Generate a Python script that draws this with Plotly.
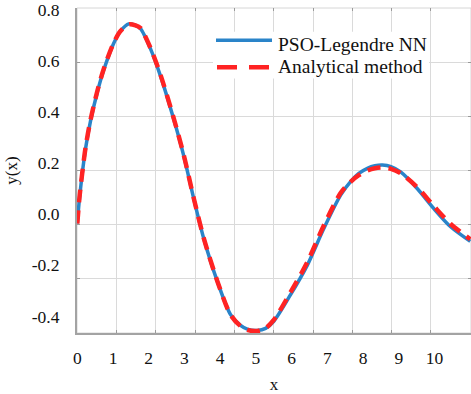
import numpy as np
import plotly.graph_objects as go

# ---- data (label units) ----
x_pso = [0, 0.07, 0.23, 0.37, 0.56, 0.74, 1.02, 1.21, 1.44, 1.63, 1.77, 2.05, 2.33, 2.70, 2.98,
         3.26, 3.54, 3.92, 4.29, 4.57, 4.76, 5.04, 5.27, 5.50, 5.97, 6.44, 6.90, 7.37, 7.65, 7.88,
         8.12, 8.33, 8.54, 8.78, 9.05, 9.52, 9.98, 10.45, 11.0]
y_pso = [-0.036, 0.074, 0.256, 0.365, 0.478, 0.565, 0.670, 0.718, 0.746, 0.740, 0.727, 0.648,
         0.541, 0.372, 0.229, 0.061, -0.095, -0.263, -0.393, -0.435, -0.450, -0.455, -0.447,
         -0.419, -0.315, -0.199, -0.056, 0.075, 0.128, 0.160, 0.180, 0.190, 0.193, 0.187, 0.166,
         0.100, 0.022, -0.049, -0.106]

x_ana = x_pso
y_ana = [-0.036, 0.078, 0.260, 0.369, 0.482, 0.569, 0.672, 0.718, 0.744, 0.740, 0.729, 0.651,
         0.546, 0.376, 0.232, 0.063, -0.093, -0.262, -0.394, -0.438, -0.453, -0.457, -0.446,
         -0.414, -0.305, -0.187, -0.044, 0.083, 0.127, 0.153, 0.171, 0.180, 0.183, 0.178, 0.161,
         0.105, 0.032, -0.038, -0.098]

x_ticks = [0, 1, 2, 3, 4, 5, 6, 7, 8, 9, 10]
x_tick_text = ["0", "1", "2", "3", "4", "5", "6", "7", "8", "9", "10"]
y_ticks = [0.8, 0.6, 0.4, 0.2, 0.0, -0.2, -0.4]
y_tick_text = ["0.8", "0.6", "0.4", "0.2", "0.0", "-0.2", "-0.4"]
series_names = ["PSO-Legendre NN", "Analytical method"]

# ---- styling / geometry ----
XR = [-0.008, 11.02]
YR = [-0.465, 0.808]
x_grid = [round(1.1 * k, 3) for k in range(11)]
y_grid = list(np.linspace(YR[0], YR[1], 7))

W, H = 471, 394
ML, MR, MT, MB = 77, 0, 8, 59
PW, PH = W - ML - MR, H - MT - MB

def px(x):
    return (x - ML) / PW

def py(y):
    return (H - MB - y) / PH

FONT = "Times New Roman"
BLUE = "#2a84c9"
RED = "#ff2323"
TXT = "#111111"

fig = go.Figure()
fig.add_trace(go.Scatter(x=x_pso, y=y_pso, mode="lines", name=series_names[0],
                         line=dict(color=BLUE, width=3.5, shape="spline", smoothing=0.8),
                         showlegend=False))
fig.add_trace(go.Scatter(x=x_ana, y=y_ana, mode="lines", name=series_names[1],
                         line=dict(color=RED, width=4.5, dash="13px,8px", shape="spline", smoothing=0.8),
                         showlegend=False))
# invisible anchor trace for the grid axes
fig.add_trace(go.Scatter(x=[XR[0]], y=[YR[0]], xaxis="x2", yaxis="y2", mode="markers",
                         marker=dict(opacity=0), showlegend=False, hoverinfo="skip"))

fig.update_layout(
    width=W, height=H,
    margin=dict(l=ML, r=MR, t=MT, b=MB),
    paper_bgcolor="white", plot_bgcolor="white",
    font=dict(family=FONT, size=17, color=TXT),
    xaxis=dict(range=XR, tickvals=x_ticks, ticktext=x_tick_text, showgrid=False, zeroline=False,
               showline=True, linecolor="#a3a3a3", linewidth=2, ticks="", ticklabelstandoff=8,
               tickfont=dict(family=FONT, size=17.5, color=TXT),
               title=dict(text="x", standoff=14, font=dict(family=FONT, size=17, color=TXT))),
    yaxis=dict(range=YR, tickvals=y_ticks, ticktext=y_tick_text, showgrid=False, zeroline=False,
               showline=True, linecolor="#a3a3a3", linewidth=2, ticks="", ticklabelstandoff=12,
               tickfont=dict(family=FONT, size=17.5, color=TXT),
               title=dict(text="y(x)", standoff=10, font=dict(family=FONT, size=17, color=TXT))),
    xaxis2=dict(range=XR, overlaying="x", anchor="y2", tickvals=x_grid, showticklabels=False,
                showgrid=True, gridcolor="#dadada", gridwidth=1, zeroline=False, showline=False,
                ticks="inside", ticklen=3, tickcolor="#9a9a9a", mirror="ticks"),
    yaxis2=dict(range=YR, overlaying="y", anchor="x2", tickvals=y_grid, showticklabels=False,
                showgrid=True, gridcolor="#dadada", gridwidth=1, zeroline=False, showline=False,
                ticks="inside", ticklen=3, tickcolor="#9a9a9a", mirror="ticks"),
    shapes=[
        dict(type="rect", xref="paper", yref="paper", x0=0, x1=1, y0=0, y1=1,
             line=dict(color="#d6d6d6", width=1), fillcolor="rgba(0,0,0,0)", layer="below"),
        dict(type="rect", xref="paper", yref="paper", x0=px(213), x1=px(429), y0=py(79), y1=py(32),
             line=dict(width=0), fillcolor="white", layer="above"),
        dict(type="line", xref="paper", yref="paper", x0=px(216), x1=px(272), y0=py(40.5), y1=py(40.5),
             line=dict(color=BLUE, width=3.5), layer="above"),
        dict(type="line", xref="paper", yref="paper", x0=px(217), x1=px(271), y0=py(67.5), y1=py(67.5),
             line=dict(color=RED, width=4.5, dash="20px,12px"), layer="above"),
    ],
    annotations=[
        dict(text=series_names[0], xref="paper", yref="paper", x=px(276), y=py(44.5),
             xanchor="left", yanchor="middle", showarrow=False,
             font=dict(family=FONT, size=19.5, color=TXT)),
        dict(text=series_names[1], xref="paper", yref="paper", x=px(276), y=py(66.5),
             xanchor="left", yanchor="middle", showarrow=False,
             font=dict(family=FONT, size=19.5, color=TXT)),
    ],
)

fig.write_html("out.html")
